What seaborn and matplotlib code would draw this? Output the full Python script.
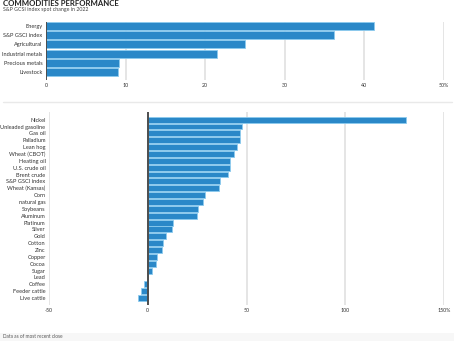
import matplotlib
matplotlib.use("Agg")
import matplotlib.pyplot as plt
import seaborn as sns
from matplotlib.patches import Rectangle
from matplotlib.lines import Line2D

# Sector-level spot change in 2022 (%)
sectors = ["Energy", "S&P GSCI index", "Agricultural", "Industrial metals",
           "Precious metals", "Livestock"]
sector_change = [41.2, 36.2, 25.0, 21.5, 9.2, 9.0]
sector_ticks = [0, 10, 20, 30, 40, 50]
sector_ticklabels = ["0", "10", "20", "30", "40", "50%"]

# Individual commodity spot change in 2022 (%)
commodities = ["Nickel", "Unleaded gasoline", "Gas oil", "Palladium", "Lean hog",
               "Wheat (CBOT)", "Heating oil", "U.S. crude oil", "Brent crude",
               "S&P GSCI index", "Wheat (Kansas)", "Corn", "natural gas",
               "Soybeans", "Aluminum", "Platinum", "Silver", "Gold", "Cotton",
               "Zinc", "Copper", "Cocoa", "Sugar", "Lead", "Coffee",
               "Feeder cattle", "Live cattle"]
commodity_change = [131.0, 47.7, 46.9, 46.5, 45.4, 43.8, 41.8, 41.6, 40.6,
                    36.4, 36.2, 28.8, 28.1, 25.4, 24.7, 12.7, 12.3, 9.1, 7.8,
                    7.4, 4.7, 4.2, 2.0, 0.0, -1.7, -3.5, -4.7]
commodity_ticks = [-50, 0, 50, 100, 150]
commodity_ticklabels = ["-50", "0", "50", "100", "150%"]

sns.set_theme(style="white")
plt.rcParams["font.family"] = ["Lato", "DejaVu Sans"]

W, H = 454, 341
fig = plt.figure(figsize=(W / 100, H / 100), dpi=100)
fig.patch.set_facecolor("white")

BAR = "#2a88c8"
EDGE = "#8ccbee"
GRID = "#dedede"
ZERO = "#4d4d4d"
TXT = "#333333"


def px_axes(x0, y0, x1, y1):
    return fig.add_axes([x0 / W, 1 - y1 / H, (x1 - x0) / W, (y1 - y0) / H])


def style(ax, ticks, labels, xlim, ylim, label_size):
    ax.set_xlim(*xlim)
    ax.set_ylim(*ylim)
    ax.set_xticks(ticks)
    ax.set_xticklabels(labels, fontsize=3.8, color=TXT)
    ax.tick_params(axis="x", length=0, pad=2.5)
    ax.tick_params(axis="y", length=0, pad=2.5, labelsize=label_size, labelcolor=TXT)
    for t in ticks:
        ax.axvline(t, color=ZERO if t == 0 else GRID,
                   lw=1.4 if t == 0 else 1.1, zorder=0 if t != 0 else 3)
    for s in ax.spines.values():
        s.set_visible(False)
    ax.set_xlabel("")
    ax.set_ylabel("")
    ax.set_facecolor("none")


# Sector chart
ax1 = px_axes(46, 22, 444, 80)
sns.barplot(x=sector_change, y=sectors, ax=ax1, orient="h", color=BAR,
            edgecolor=EDGE, linewidth=0.6, width=0.87, saturation=1, zorder=2)
style(ax1, sector_ticks, sector_ticklabels, (0, 50), (5.87, -0.43), 4.1)

# Commodity chart
ax2 = px_axes(49, 112, 444, 305)
sns.barplot(x=commodity_change, y=commodities, ax=ax2, orient="h", color=BAR,
            edgecolor=EDGE, linewidth=0.6, width=0.86, saturation=1, zorder=2)
style(ax2, commodity_ticks, commodity_ticklabels, (-50, 150), (27.02, -1.12), 4.1)

# Titles
fig.text(3 / W, 1 - 0.3 / H, "COMMODITIES PERFORMANCE", fontsize=5.6,
         fontweight="bold", color="#222222", va="top", ha="left")
fig.text(3 / W, 1 - 9.5 / H, "S&P GCSI index spot change in 2022", fontsize=3.8,
         color="#444444", va="center", ha="left")

# Separator between the two charts
fig.add_artist(Line2D([3 / W, 452 / W], [1 - 102 / H, 1 - 102 / H],
                      color="#e9e9e9", lw=1.0, transform=fig.transFigure))

# Footer strip with note
fig.add_artist(Rectangle((0, 0), 1, 8 / H, transform=fig.transFigure,
                         facecolor="#f7f7f7", edgecolor="none", zorder=0))
fig.text(3 / W, 1 - 337 / H, "Data as of most recent close", fontsize=3.4,
         color="#555555", va="center", ha="left")

fig.savefig("out.png", dpi=100, facecolor="white")
